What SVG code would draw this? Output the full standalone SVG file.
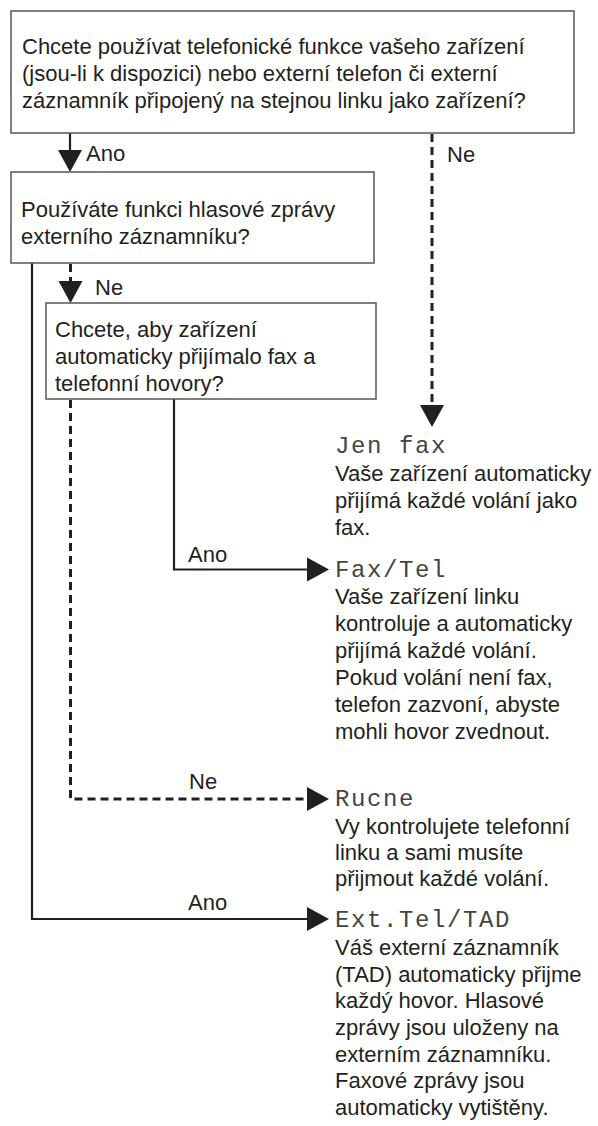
<svg xmlns="http://www.w3.org/2000/svg" width="598" height="1126" viewBox="0 0 598 1126">
  <style>
    .box { fill: #ffffff; stroke: #555555; stroke-width: 1.5; }
    .t { font-family: "Liberation Sans", Arial, sans-serif; font-size: 22px; fill: #231f20; }
    .lcd { font-family: "Liberation Mono", "DejaVu Sans Mono", monospace; font-size: 24px; letter-spacing: 1.6px; fill: #444444; }
    .solid { fill: none; stroke: #231f20; stroke-width: 2.2; }
    .dash { fill: none; stroke: #231f20; stroke-width: 3; stroke-dasharray: 8 5; }
    .head { fill: #231f20; }
  </style>
  <rect width="598" height="1126" fill="#ffffff"/>

  <g id="connectors">
    <line class="solid" x1="70" y1="133" x2="70" y2="151"/>
    <polygon class="head" points="58,150 82,150 70,172"/>
    <text class="t" x="86" y="161">Ano</text>

    <line class="dash" x1="432" y1="134" x2="432" y2="406"/>
    <polygon class="head" points="420,405 444,405 432,427"/>
    <text class="t" x="447" y="162">Ne</text>

    <line class="dash" x1="70.5" y1="264" x2="70.5" y2="282"/>
    <polygon class="head" points="58.5,281 82.5,281 70.5,303"/>
    <text class="t" x="95" y="295">Ne</text>

    <polyline class="solid" points="174,399 174,569.5 308,569.5"/>
    <polygon class="head" points="307,557.5 329,569.5 307,581.5"/>
    <text class="t" x="188" y="562">Ano</text>

    <polyline class="dash" points="70.5,400 70.5,799 308,799"/>
    <polygon class="head" points="307,787 329,799 307,811"/>
    <text class="t" x="189" y="789">Ne</text>

    <polyline class="solid" points="32,263 32,919 308,919"/>
    <polygon class="head" points="307,907 329,919 307,931"/>
    <text class="t" x="188" y="910">Ano</text>
  </g>

  <g id="q1">
    <rect class="box" x="11" y="11" width="563" height="122"/>
    <text class="t" x="22" y="54">Chcete používat telefonické funkce vašeho zařízení</text>
    <text class="t" x="22" y="81">(jsou-li k dispozici) nebo externí telefon či externí</text>
    <text class="t" x="22" y="108">záznamník připojený na stejnou linku jako zařízení?</text>
  </g>

  <g id="q2">
    <rect class="box" x="11" y="172" width="363" height="91"/>
    <text class="t" x="21" y="217">Používáte funkci hlasové zprávy</text>
    <text class="t" x="21" y="244">externího záznamníku?</text>
  </g>

  <g id="q3">
    <rect class="box" x="46" y="303" width="330" height="96"/>
    <text class="t" x="55" y="337">Chcete, aby zařízení</text>
    <text class="t" x="55" y="364">automaticky přijímalo fax a</text>
    <text class="t" x="55" y="391">telefonní hovory?</text>
  </g>

  <g id="jen-fax">
    <text class="lcd" x="335" y="453">Jen fax</text>
    <text class="t" x="335" y="481">Vaše zařízení automaticky</text>
    <text class="t" x="335" y="508">přijímá každé volání jako</text>
    <text class="t" x="335" y="535">fax.</text>
  </g>

  <g id="fax-tel">
    <text class="lcd" x="335" y="577">Fax/Tel</text>
    <text class="t" x="335" y="604">Vaše zařízení linku</text>
    <text class="t" x="335" y="631">kontroluje a automaticky</text>
    <text class="t" x="335" y="658">přijímá každé volání.</text>
    <text class="t" x="335" y="685">Pokud volání není fax,</text>
    <text class="t" x="335" y="712">telefon zazvoní, abyste</text>
    <text class="t" x="335" y="739">mohli hovor zvednout.</text>
  </g>

  <g id="rucne">
    <text class="lcd" x="335" y="806">Rucne</text>
    <text class="t" x="335" y="834">Vy kontrolujete telefonní</text>
    <text class="t" x="335" y="860">linku a sami musíte</text>
    <text class="t" x="335" y="886">přijmout každé volání.</text>
  </g>

  <g id="ext-tel-tad">
    <text class="lcd" x="335" y="927">Ext.Tel/TAD</text>
    <text class="t" x="335" y="955">Váš externí záznamník</text>
    <text class="t" x="335" y="982">(TAD) automaticky přijme</text>
    <text class="t" x="335" y="1008">každý hovor. Hlasové</text>
    <text class="t" x="335" y="1035">zprávy jsou uloženy na</text>
    <text class="t" x="335" y="1062">externím záznamníku.</text>
    <text class="t" x="335" y="1088">Faxové zprávy jsou</text>
    <text class="t" x="335" y="1115">automaticky vytištěny.</text>
  </g>
</svg>
